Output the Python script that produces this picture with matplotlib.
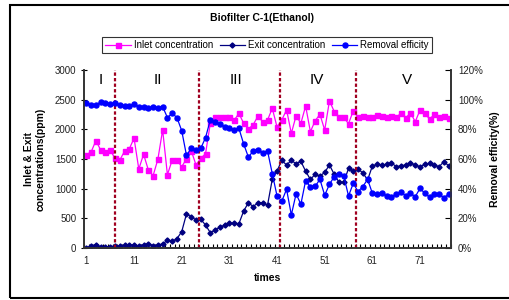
import numpy as np
import matplotlib.pyplot as plt
from matplotlib.patches import Rectangle
from matplotlib.ticker import FuncFormatter

plt.rcParams['font.family'] = ['Liberation Sans', 'DejaVu Sans']

# readings, 77 samples
inlet = [1570, 1620, 1810, 1650, 1620, 1650, 1510, 1480, 1630, 1670,
         1850, 1330, 1580, 1315, 1220, 1495, 1990, 1235, 1480, 1480,
         1370, 1500, 1640, 1400, 1510, 1590, 2100, 2200, 2213, 2213,
         2200, 2150, 2270, 2100, 2005, 2078, 2224, 2125, 2155, 2354,
         2040, 2157, 2330, 1932, 2229, 2101, 2393, 1960, 2145, 2253,
         1988, 2480, 2300, 2210, 2200, 2095, 2314, 2202, 2229, 2202,
         2202, 2236, 2224, 2213, 2224, 2202, 2269, 2190, 2280, 2128,
         2325, 2280, 2168, 2253, 2202, 2224, 2190]
exit_c = [5, 39, 56, 22, 22, 22, 34, 34, 45, 51,
          45, 39, 51, 73, 39, 51, 67, 129, 112, 157,
          275, 573, 528, 472, 483, 388, 258, 303, 348, 388,
          416, 416, 410, 623, 764, 697, 764, 764, 719, 1157,
          1300, 1475, 1400, 1475, 1420, 1460, 1295, 1155, 1243, 1210,
          1275, 1400, 1241, 1107, 1107, 1342, 1297, 1326, 1269, 1146,
          1382, 1410, 1398, 1410, 1438, 1370, 1387, 1398, 1438, 1398,
          1370, 1410, 1427, 1398, 1370, 1454, 1387]
efficiency = [98.0, 96.6, 96.6, 98.2, 97.5, 97.1, 97.5, 96.2, 95.7, 95.9,
              96.9, 95.3, 95.3, 94.2, 95.3, 94.6, 95.3, 87.9, 90.8, 87.9,
              79.1, 62.5, 67.2, 65.9, 67.2, 74.4, 86.3, 84.7, 83.4, 81.8,
              80.9, 79.6, 80.7, 70.1, 61.2, 65.5, 66.1, 64.3, 65.5, 50.2,
              35.1, 31.6, 39.6, 22.3, 36.5, 29.5, 45.4, 41.2, 41.6, 46.3,
              35.5, 43.0, 48.1, 49.7, 48.5, 35.1, 43.6, 38.0, 41.4, 46.3,
              36.9, 36.4, 36.9, 35.1, 34.6, 36.2, 38.0, 35.1, 36.9, 34.6,
              40.2, 36.9, 34.2, 36.2, 36.4, 33.9, 36.2]
t = np.arange(1, len(inlet) + 1)

phase_edges = [7, 24.6, 41.7, 57.5]
phase_names = ['I', 'II', 'III', 'IV', 'V']
phase_pos = [4, 16, 32.4, 49.3, 68.2]

fig = plt.figure(figsize=(5.09, 3.0), dpi=100)
ax = fig.add_axes([84/509, 1 - 248/300, 367/509, 178/300])
ax2 = ax.twinx()

l1, = ax.plot(t, inlet, color='#FF00FF', marker='s', ms=3.6, lw=0.9, label='Inlet concentration')
l2, = ax.plot(t, exit_c, color='#000080', marker='D', ms=2.6, lw=0.9, label='Exit concentration')
l3, = ax2.plot(t, efficiency, color='#0000FF', marker='o', ms=3.6, lw=0.9, label='Removal efficity')

for x in phase_edges:
    ax.axvline(x, color='#A00020', ls=(0, (1.5, 1)), lw=1.6)
for x, s in zip(phase_pos, phase_names):
    ax.text(x, 2830, s, ha='center', va='center', fontsize=11)

ax.set_xlim(0.5, 77.5)
ax.set_ylim(0, 3000)
ax2.set_ylim(0, 120)
ax.set_yticks(np.arange(0, 3001, 500))
ax2.set_yticks(np.arange(0, 121, 20))
ax2.yaxis.set_major_formatter(FuncFormatter(lambda v, p: '%d%%' % v))
ax.set_xticks(np.arange(1, 78, 10))
ax.set_xticks(np.arange(0.5, 78, 1), minor=True)

for a in (ax, ax2):
    a.spines['top'].set_visible(False)
    for s in a.spines.values():
        s.set_color('#333333')
        s.set_linewidth(1.2)
ax.tick_params(axis='x', which='major', length=0, labelsize=7, pad=6, labelcolor='#222222')
ax.tick_params(axis='x', which='minor', direction='in', length=3, width=0.8)
ax.tick_params(axis='y', direction='inout', length=5, labelsize=7, pad=3, labelcolor='#222222')
ax2.tick_params(axis='y', direction='in', length=4, labelsize=7, pad=5, labelcolor='#222222')

ax.set_xlabel('times', fontsize=7.5, fontweight='bold', labelpad=5)
ax.set_ylabel('Inlet & Exit\nconcentrations(ppm)', fontsize=7.5, fontweight='bold', labelpad=7)
ax2.set_ylabel('Removal efficity(%)', fontsize=7.5, fontweight='bold', labelpad=5)

fig.text(262/509, 1 - 18/300, 'Biofilter C-1(Ethanol)', ha='center', va='center',
         fontsize=7.5, fontweight='bold')
leg = fig.legend(handles=[l1, l2, l3], loc='center', bbox_to_anchor=(267/509, 1 - 45/300),
                 ncol=3, fontsize=7, frameon=True, fancybox=False, edgecolor='black',
                 handlelength=2.6, handletextpad=0.3, columnspacing=0.7, borderpad=0.3)
leg.get_frame().set_linewidth(0.8)

fig.patches.append(Rectangle((10/509, 2/300), 520/509, 293/300, transform=fig.transFigure,
                             fill=False, edgecolor='black', lw=1.5))

fig.savefig('out.png', dpi=100)
